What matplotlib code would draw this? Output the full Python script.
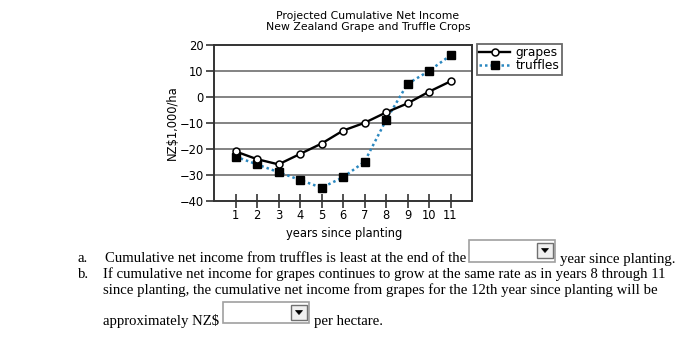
import matplotlib
matplotlib.use("Agg")
import matplotlib.pyplot as plt
from matplotlib.patches import Rectangle, Polygon

years = [1, 2, 3, 4, 5, 6, 7, 8, 9, 10, 11]
grapes = [-21, -24, -26, -22, -18, -13, -10, -6, -2.5, 2, 6]
truffles = [-23, -26, -29, -32, -35, -31, -25, -9, 5, 10, 16]
yticks = [-40, -30, -20, -10, 0, 10, 20]
ytick_labels = ["\u221240", "\u221230", "\u221220", "\u221210", "0", "10", "20"]

title = "Projected Cumulative Net Income\nNew Zealand Grape and Truffle Crops"
xlabel = "years since planting"
ylabel = "NZ\\$1,000/ha"

W, H = 682, 340
fig = plt.figure(figsize=(W / 100, H / 100), dpi=100)
fig.patch.set_facecolor("white")

def fx(px):
    return px / W

def fy(py):
    return 1 - py / H

ax = fig.add_axes([fx(214), fy(200.7), fx(472) - fx(214), fy(45) - fy(200.7)])
ax.set_xlim(0, 12)
ax.set_ylim(-40, 20)
ax.set_yticks(yticks)
ax.set_yticklabels(ytick_labels)
ax.set_xticks(years)
ax.set_xticklabels([str(y) for y in years])
for y in yticks[1:-1]:
    ax.axhline(y, color="#7a7a7a", lw=1.3, zorder=1)
for s in ax.spines.values():
    s.set_color("#333333")
    s.set_linewidth(1.4)
ax.tick_params(axis="y", direction="out", length=6, width=1.2, color="#333333",
               labelsize=8.3, pad=1.5)
ax.tick_params(axis="x", direction="inout", length=10, width=1.2, color="#333333",
               labelsize=8.3, pad=1)

ax.plot(years, grapes, color="black", lw=1.7, marker="o", ms=5,
        mfc="white", mec="black", mew=1.1, label="grapes", zorder=4)
ax.plot(years, truffles, color="#2b88c0", lw=1.8, ls=(0, (1, 1.2)), marker="s", ms=6.2,
        mfc="black", mec="black", label="truffles", zorder=3)

leg = fig.legend(loc="upper left", bbox_to_anchor=(fx(477), fy(44)), fontsize=8.8,
                 frameon=True, fancybox=False, borderaxespad=0, borderpad=0.2,
                 handlelength=2.5, handletextpad=0.45, labelspacing=0.0)
leg.get_frame().set_edgecolor("#444444")
leg.get_frame().set_linewidth(1.3)

fig.text(fx(368), fy(21.5), title, ha="center", va="center", fontsize=7.8,
         linespacing=1.05)
fig.text(fx(344), fy(233), xlabel, ha="center", va="center", fontsize=8.3)
fig.text(fx(172), fy(123), ylabel, ha="center", va="center", rotation=90, fontsize=8.3)

serif = dict(family="Liberation Serif", fontsize=10.6, va="center")
fig.text(fx(78), fy(259), "a.", **serif)
fig.text(fx(105), fy(259), "Cumulative net income from truffles is least at the end of the", **serif)
fig.text(fx(560), fy(259), "year since planting.", **serif)
fig.text(fx(78), fy(274), "b.", **serif)
fig.text(fx(103), fy(274), "If cumulative net income for grapes continues to grow at the same rate as in years 8 through 11", **serif)
fig.text(fx(103), fy(290), "since planting, the cumulative net income from grapes for the 12th year since planting will be", **serif)
fig.text(fx(103), fy(321), "approximately NZ\\$", **serif)
fig.text(fx(314), fy(321), "per hectare.", **serif)

def dropdown(x0, y0, x1, y1):
    fig.patches.append(Rectangle((fx(x0), fy(y1)), fx(x1) - fx(x0), fy(y0) - fy(y1),
                                 transform=fig.transFigure, facecolor="white",
                                 edgecolor="#a0a0a0", lw=1.2))
    bx0 = x1 - 18
    fig.patches.append(Rectangle((fx(bx0), fy(y0 + 2.5 + 15)), fx(16), fy(0) - fy(15),
                                 transform=fig.transFigure, facecolor="#f0f0f0",
                                 edgecolor="#707070", lw=1.0))
    cx = bx0 + 8
    cy = y0 + 10
    fig.patches.append(Polygon([(fx(cx - 3.5), fy(cy - 1.5)), (fx(cx + 3.5), fy(cy - 1.5)),
                                (fx(cx), fy(cy + 2.5))], closed=True,
                               transform=fig.transFigure, facecolor="black",
                               edgecolor="black", lw=0.5))

dropdown(469, 240, 555, 262)
dropdown(223, 302, 309, 323)

fig.savefig("out.png", dpi=100, facecolor="white")
